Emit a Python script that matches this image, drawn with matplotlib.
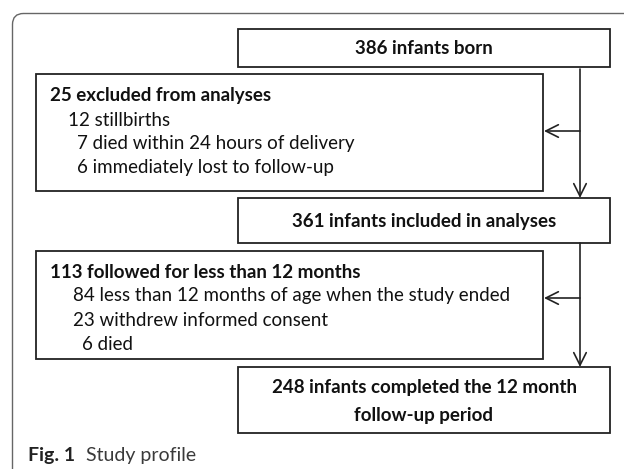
import matplotlib
matplotlib.use("Agg")
import matplotlib.pyplot as plt
from matplotlib.patches import Rectangle, PathPatch
from matplotlib.path import Path

# ---- content ----
main_labels = ["386 infants born", "361 infants included in analyses",
               "248 infants completed the 12 month\nfollow-up period"]
excl1_title = "25 excluded from analyses"
excl1_items = ["12 stillbirths", "7 died within 24 hours of delivery", "6 immediately lost to follow-up"]
excl2_title = "113 followed for less than 12 months"
excl2_items = ["84 less than 12 months of age when the study ended",
               "23 withdrew informed consent", "6 died"]
caption_bold = "Fig. 1"
caption_text = "Study profile"

# ---- layout (pixels) ----
W, H = 624, 469
FONT = "Lato"
FS = 13.5
main_boxes = [(238, 29, 610, 67), (238, 198, 610, 243), (238, 367, 610, 433)]
excl_boxes = [(36, 74, 543, 191), (36, 251, 543, 359)]
flow_x = 580

fig = plt.figure(figsize=(W / 100, H / 100), dpi=100)
ax = fig.add_axes([0, 0, 1, 1])
ax.set_xlim(0, W)
ax.set_ylim(H, 0)
ax.axis("off")

# outer frame (top + left with rounded corner)
r = 11
verts = [(12.5, H), (12.5, 13.5 + r), (12.5, 13.5), (12.5 + r, 13.5), (W, 13.5)]
codes = [Path.MOVETO, Path.LINETO, Path.CURVE3, Path.CURVE3, Path.LINETO]
ax.add_patch(PathPatch(Path(verts, codes), fill=False, ec="#666666", lw=1.0))

def box(b):
    x0, y0, x1, y1 = b
    ax.add_patch(Rectangle((x0, y0), x1 - x0, y1 - y0, fill=False, ec="#222222", lw=1.3))

for b in main_boxes + excl_boxes:
    box(b)

TXT = dict(fontsize=FS, family=FONT, color="#111111")

# main box texts
cx = (main_boxes[0][0] + main_boxes[0][2]) / 2
ax.text(cx, 49, main_labels[0], ha="center", va="center", fontweight="bold", **TXT)
ax.text(cx, 221, main_labels[1], ha="center", va="center", fontweight="bold", **TXT)
l3 = main_labels[2].split("\n")
ax.text(cx, 388, l3[0], ha="center", va="center", fontweight="bold", **TXT)
ax.text(cx, 416, l3[1], ha="center", va="center", fontweight="bold", **TXT)

# exclusion texts
ex1_y = [96, 120, 144, 168]
ex1_x = [50, 68, 77, 77]
ax.text(ex1_x[0], ex1_y[0], excl1_title, ha="left", va="center", fontweight="bold", **TXT)
for xx, yy, t in zip(ex1_x[1:], ex1_y[1:], excl1_items):
    ax.text(xx, yy, t, ha="left", va="center", **TXT)

ex2_y = [272, 296, 320, 344]
ex2_x = [50, 73, 73, 82]
ax.text(ex2_x[0], ex2_y[0], excl2_title, ha="left", va="center", fontweight="bold", **TXT)
for xx, yy, t in zip(ex2_x[1:], ex2_y[1:], excl2_items):
    ax.text(xx, yy, t, ha="left", va="center", **TXT)

# arrows
aprops = dict(arrowstyle="->,head_length=0.9,head_width=0.45", color="#222222", lw=1.2,
              shrinkA=0, shrinkB=0)
ax.annotate("", xy=(flow_x, main_boxes[1][1]), xytext=(flow_x, main_boxes[0][3] + 2), arrowprops=aprops)
ax.annotate("", xy=(flow_x, main_boxes[2][1]), xytext=(flow_x, main_boxes[1][3]), arrowprops=aprops)
ax.annotate("", xy=(excl_boxes[0][2] + 1, 131), xytext=(flow_x, 131), arrowprops=aprops)
ax.annotate("", xy=(excl_boxes[1][2] + 1, 298), xytext=(flow_x, 298), arrowprops=aprops)

# caption
t1 = ax.text(28, 456, caption_bold, ha="left", va="center", fontsize=14, fontweight="bold",
             family=FONT, color="#222222")
fig.canvas.draw()
bb = t1.get_window_extent()
ax.annotate(caption_text, xy=(bb.x1 + 11, 456), xycoords=("figure pixels", "data"), ha="left", va="center",
            fontsize=14, family=FONT, color="#3a3a3a")

fig.savefig("out.png", dpi=100)
